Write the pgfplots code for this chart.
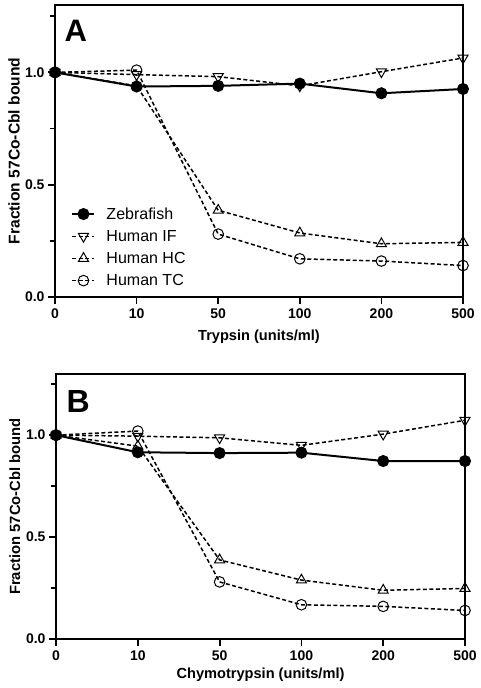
\documentclass[border=0pt]{standalone}
\usepackage{fontspec}
\setmainfont{Liberation Sans}
\usepackage{pgfplots}
\pgfplotsset{compat=1.18}

\pgfplotsset{
  panel/.style={
    scale only axis, anchor=south west,
    xmin=0, xmax=5, ymin=0, ymax=1.3,
    clip=false,
    axis line style={line width=2.2pt},
    xtick={0,1,2,3,4,5}, xticklabels={0,10,50,100,200,500},
    ytick={0,0.5,1}, yticklabels={0.0,0.5,1.0},
    minor ytick={0.25,0.75,1.25},
    tick align=outside, xtick pos=bottom, ytick pos=left,
    major tick length=7pt, minor tick length=5pt,
    every tick/.style={line width=1.8pt, black},
    tick label style={font=\fontsize{14}{16}\selectfont\bfseries},
    xticklabel style={yshift=-1pt},
    yticklabel style={xshift=0pt},
    xlabel style={font=\fontsize{14.6}{16}\selectfont\bfseries, anchor=center},
  },
  zf/.style={black, line width=2pt, mark=*, mark size=5pt, mark options={solid, fill=black}},
  dsh/.style={black, line width=1.5pt, dash pattern=on 4pt off 2.5pt},
  sif/.style={dsh, mark=triangle, mark size=5.8pt, mark options={solid, fill=white, line width=1pt, rotate=180}},
  shc/.style={dsh, mark=triangle, mark size=5.8pt, mark options={solid, fill=white, line width=1pt}},
  stc/.style={dsh, mark=o, mark size=5.3pt, mark options={solid, fill=white, line width=1pt}},
}

\begin{document}
\begin{tikzpicture}
\useasboundingbox (0,0) rectangle (481pt,688pt);

% Panel A
\begin{axis}[panel,
  at={(55pt,391pt)}, width=408pt, height=292pt,
  xlabel={Trypsin (units/ml)},
  xlabel style={at={(axis description cs:0.5,-0.137)}},
  ylabel={Fraction 57Co-Cbl bound},
  ylabel style={font=\fontsize{15.6}{16}\selectfont\bfseries, at={(axis description cs:-0.1005,0.5)}, anchor=center},
  reverse legend,
  legend style={at={(rel axis cs:0.035,0.02)}, anchor=south west, draw=none, fill=none,
    font=\fontsize{16}{18}\selectfont, row sep=5.5pt, inner sep=2pt,
    /tikz/every odd column/.append style={column sep=9pt}},
  legend cell align=left,
  legend image code/.code={\draw[mark repeat=2,mark phase=2] plot coordinates {(0pt,0pt)(11pt,0pt)(22pt,0pt)};},
]
\addplot[stc] coordinates {(0,1.00) (1,1.01) (2,0.28) (3,0.17) (4,0.16) (5,0.14)};
\addlegendentry{Human TC}
\addplot[shc] coordinates {(0,1.00) (1,0.94) (2,0.386) (3,0.285) (4,0.237) (5,0.243)};
\addlegendentry{Human HC}
\addplot[sif] coordinates {(0,1.00) (1,0.99) (2,0.981) (3,0.94) (4,1.003) (5,1.064)};
\addlegendentry{Human IF}
\addplot[zf] coordinates {(0,1.00) (1,0.937) (2,0.94) (3,0.95) (4,0.907) (5,0.926)};
\addlegendentry{Zebrafish}
\node[font=\fontsize{31}{31}\selectfont\bfseries] at (rel axis cs:0.051,0.911) {A};
\end{axis}

% Panel B
\begin{axis}[panel,
  at={(56pt,49pt)}, width=409pt, height=265pt,
  xlabel={Chymotrypsin (units/ml)},
  xlabel style={at={(axis description cs:0.5,-0.136)}},
  ylabel={Fraction 57Co-Cbl bound},
  ylabel style={font=\fontsize{14.8}{16}\selectfont\bfseries, at={(axis description cs:-0.1005,0.5)}, anchor=center},
]
\addplot[stc] coordinates {(0,1.00) (1,1.02) (2,0.28) (3,0.168) (4,0.16) (5,0.14)};
\addplot[shc] coordinates {(0,1.00) (1,0.946) (2,0.388) (3,0.289) (4,0.239) (5,0.248)};
\addplot[sif] coordinates {(0,1.00) (1,0.995) (2,0.987) (3,0.95) (4,1.005) (5,1.073)};
\addplot[zf] coordinates {(0,1.00) (1,0.916) (2,0.912) (3,0.914) (4,0.873) (5,0.873)};
\node[font=\fontsize{32}{32}\selectfont\bfseries] at (rel axis cs:0.054,0.896) {B};
\end{axis}
\end{tikzpicture}
\end{document}
